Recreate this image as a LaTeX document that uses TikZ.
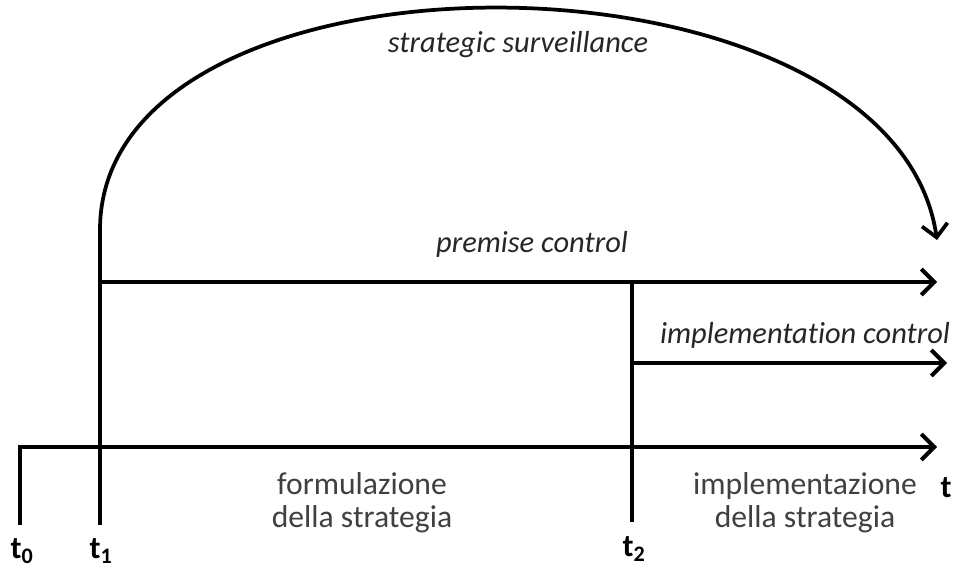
\documentclass[tikz,border=0pt]{standalone}
\usepackage{fontspec}
\setmainfont{Carlito}[Ligatures=NoCommon]
\usetikzlibrary{arrows.meta}

\begin{document}
\begin{tikzpicture}[x=0.03cm, y=-0.03cm,
    axis/.style = {line width=4pt, line join=miter},
    flow/.style = {axis, -{Straight Barb[length=11pt, width=22pt, line width=3.4pt]}},
    surv/.style = {line width=3.2pt, -{Straight Barb[length=11pt, width=22pt, line width=3.2pt]}},
    phase/.style = {align=center, font=\fontsize{27}{28.5}\selectfont, text=black!75},
    ctrl/.style = {font=\fontsize{26}{28}\selectfont\itshape, text=black!85},
    tick/.style = {font=\fontsize{27}{29}\selectfont\bfseries}]

  \useasboundingbox (0,0) rectangle (959,574);

  % time axis and the three instants
  \coordinate (t0 foot) at (20,525);
  \coordinate (t0 top) at (20,447);
  \coordinate (axis end) at (937,447);
  \coordinate (t1 foot) at (100,525);
  \coordinate (t1 top) at (100,230);
  \coordinate (t1 mid) at (100,282);
  \coordinate (t2 foot) at (632,522);
  \coordinate (t2 top) at (632,282);
  \coordinate (t2 mid) at (632,363);
  \coordinate (premise end) at (937,282);
  \coordinate (impl end) at (947,363);
  \coordinate (surv end) at (937,240);

  \draw[flow] (t0 foot) -- (t0 top) -- (axis end);
  \draw[axis] (t1 foot) -- (t1 top);
  \draw[axis] (t2 foot) -- (t2 top);

  % controls
  \draw[flow] (t1 mid) -- (premise end);
  \draw[flow] (t2 mid) -- (impl end);
  \draw[surv] (t1 top) .. controls +(0,-300) and +(-45,-305) .. (surv end);

  \node[ctrl] (surveillance) at (518,45) {strategic surveillance};
  \node[ctrl] (premise) at (532,244) {premise control};
  \node[ctrl] (implementation) at (805,335) {implementation control};

  \node[phase] (formulazione) at (362,503) {formulazione\\della strategia};
  \node[phase] (implementazione) at (805,503) {implementazione\\della strategia};

  \node[tick] (t0) at (22,551) {t\textsubscript{0}};
  \node[tick] (t1) at (101,551) {t\textsubscript{1}};
  \node[tick] (t2) at (634,549) {t\textsubscript{2}};
  \node[tick] (t) at (946,488) {t};
\end{tikzpicture}
\end{document}
